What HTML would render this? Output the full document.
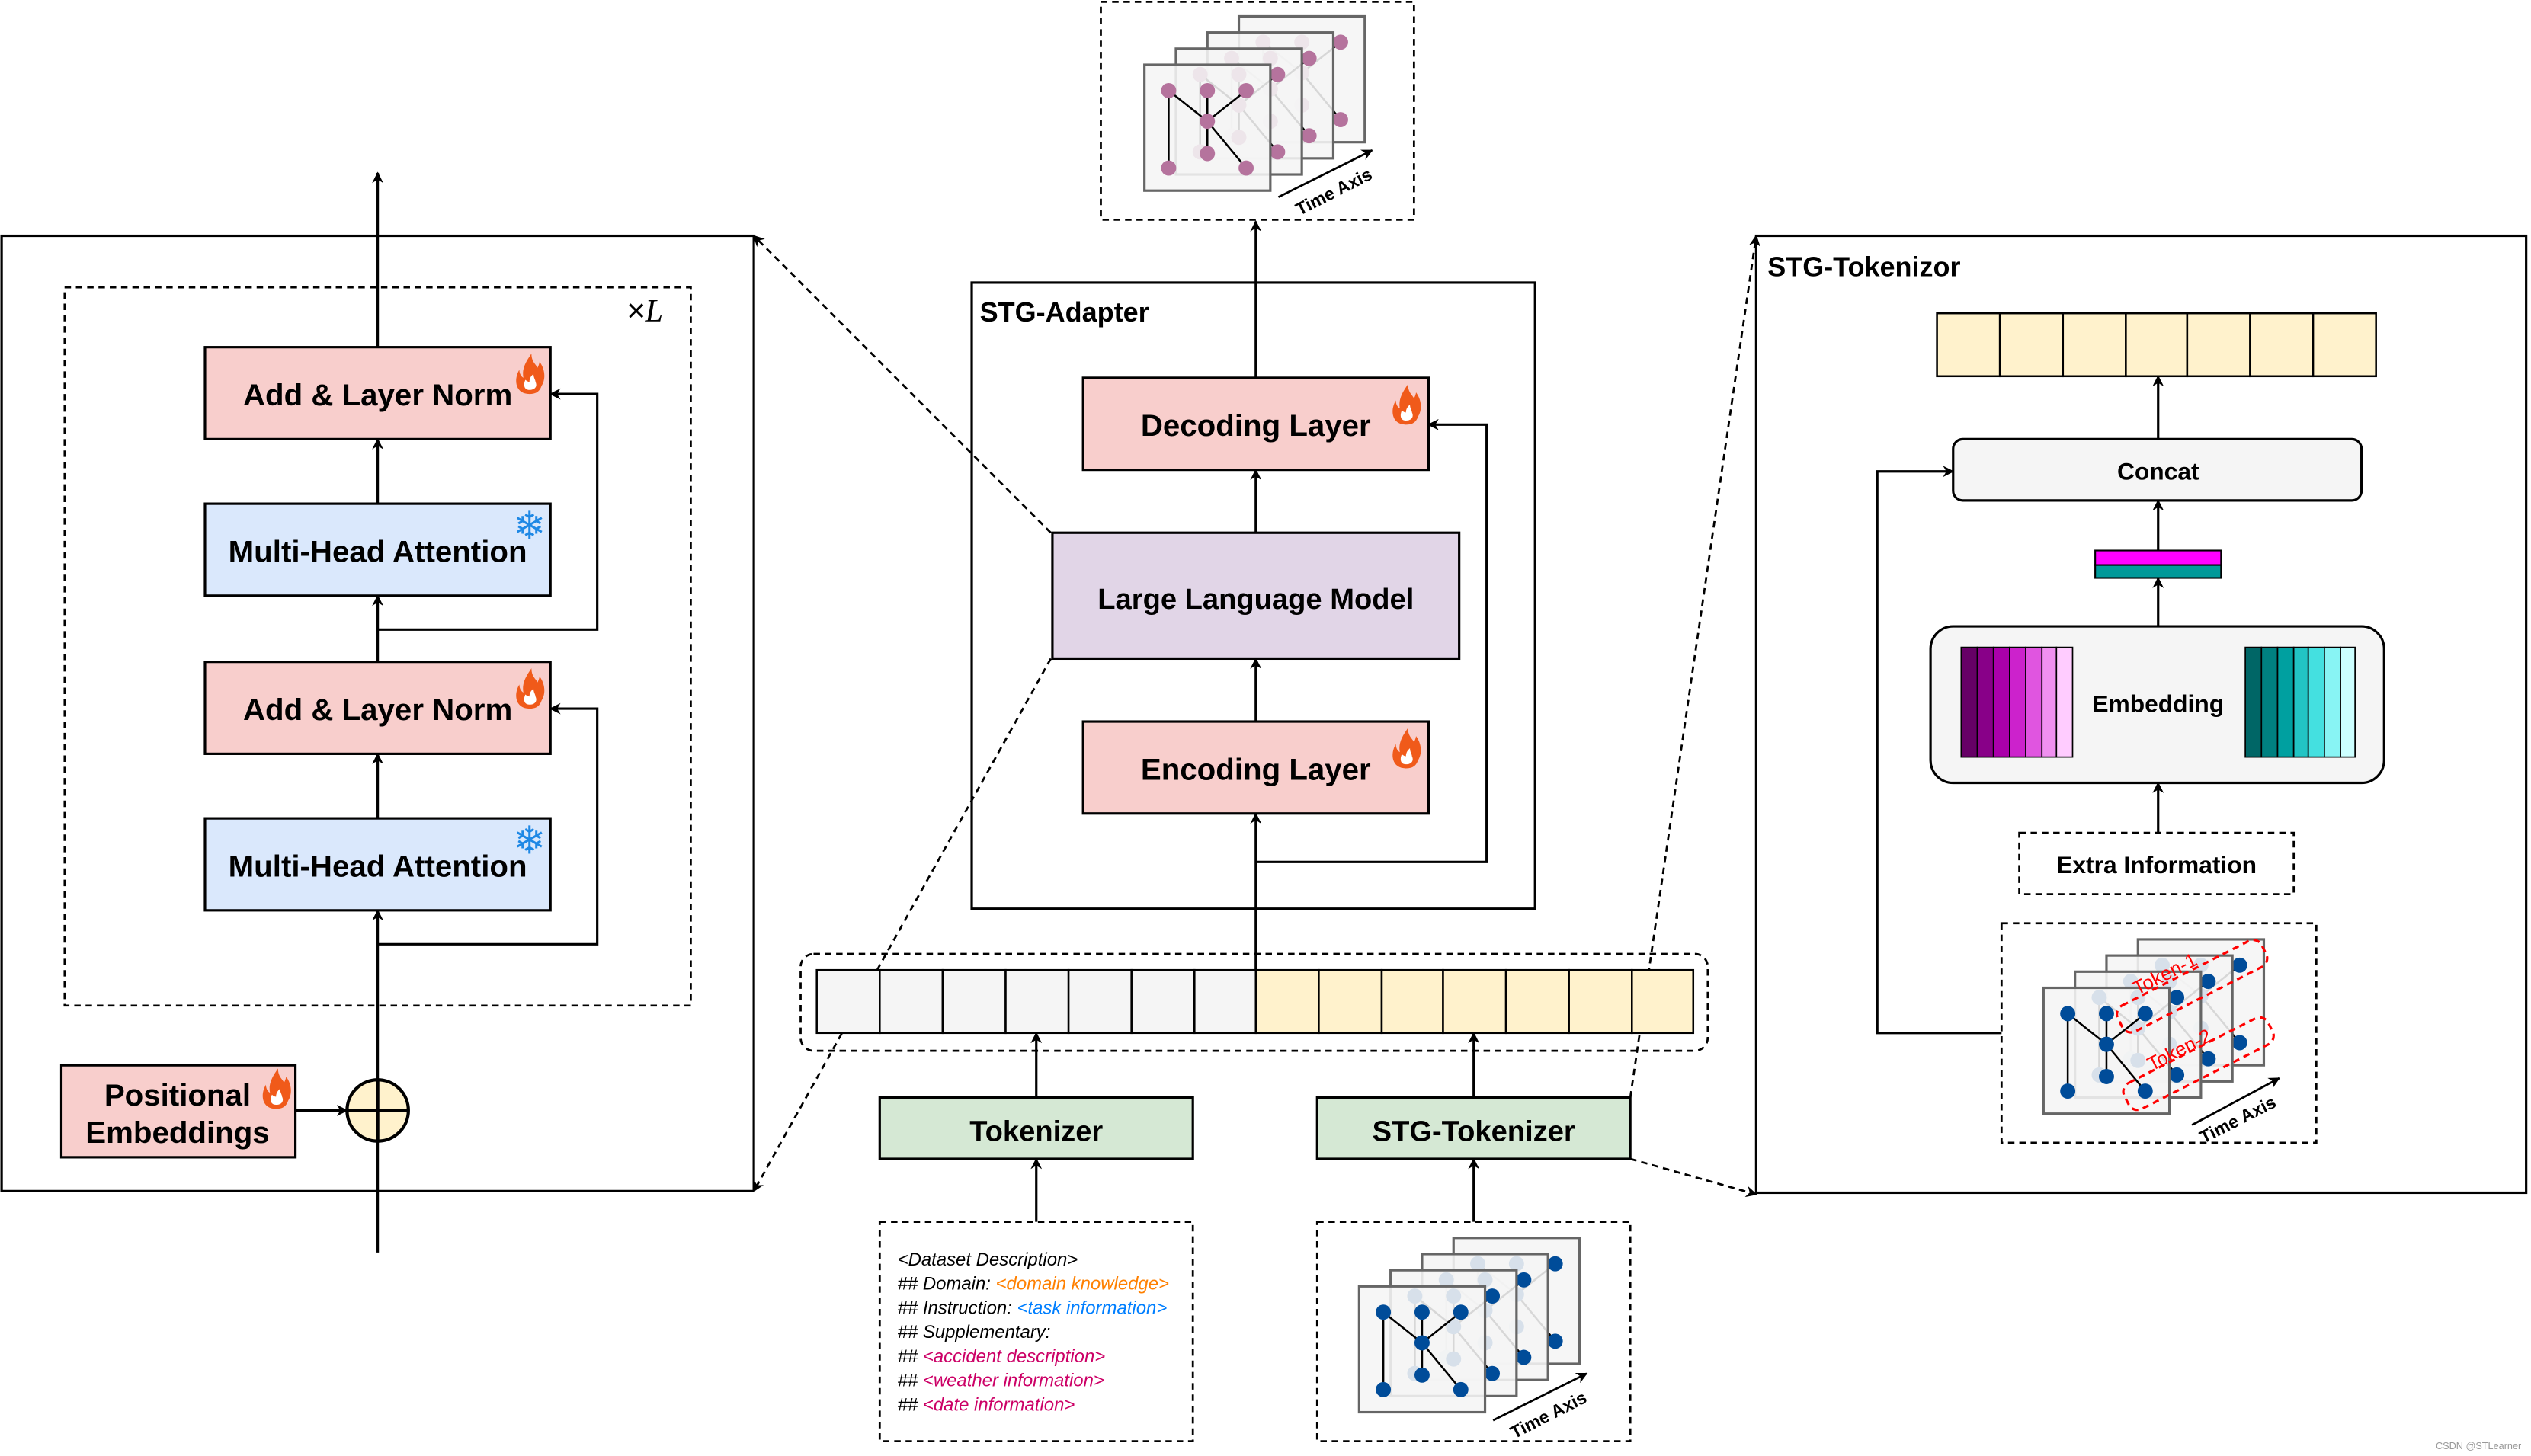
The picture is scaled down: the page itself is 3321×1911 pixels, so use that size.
<!DOCTYPE html>
<html><head><meta charset="utf-8"><style>
html,body{margin:0;padding:0;background:#fff}
svg{display:block}
text{font-family:"Liberation Sans",sans-serif}
.b{font-weight:bold}
</style></head><body>
<svg width="3321" height="1911" viewBox="0 0 1568 902" xmlns="http://www.w3.org/2000/svg">
<defs>
<marker id="ar" viewBox="0 0 10 10" refX="9" refY="5" markerWidth="7" markerHeight="7" orient="auto-start-reverse" markerUnits="userSpaceOnUse"><path d="M0,0 L10,5 L0,10 L3,5 z" fill="#000"/></marker>
<g id="edges">
<line x1="15" y1="16" x2="39" y2="35"/><line x1="63" y1="16" x2="39" y2="35"/><line x1="39" y1="16" x2="39" y2="55"/><line x1="39" y1="35" x2="63" y2="64"/><line x1="15" y1="16" x2="15" y2="64"/>
</g>
<g id="fp">
<rect x="0" y="0" width="78" height="78" fill="#f5f5f5" fill-opacity="0.88" stroke="#666" stroke-width="1.5"/>
<use href="#edges" stroke="#000" stroke-width="1.2"/>
<g fill="#b5739d"><circle cx="15" cy="16" r="4.7"/><circle cx="39" cy="16" r="4.7"/><circle cx="63" cy="16" r="4.7"/><circle cx="39" cy="35" r="4.7"/><circle cx="39" cy="55" r="4.7"/><circle cx="15" cy="64" r="4.7"/><circle cx="63" cy="64" r="4.7"/></g>
</g>
<g id="fb">
<rect x="0" y="0" width="78" height="78" fill="#f5f5f5" fill-opacity="0.88" stroke="#666" stroke-width="1.5"/>
<use href="#edges" stroke="#000" stroke-width="1.2"/>
<g fill="#004c99"><circle cx="15" cy="16" r="4.7"/><circle cx="39" cy="16" r="4.7"/><circle cx="63" cy="16" r="4.7"/><circle cx="39" cy="35" r="4.7"/><circle cx="39" cy="55" r="4.7"/><circle cx="15" cy="64" r="4.7"/><circle cx="63" cy="64" r="4.7"/></g>
</g>
<g id="fire" transform="scale(1.25)">
<path d="M0,12 C-7,12 -8,5 -5,0 C-5,3 -3,4 -3,4 C-4,-1 -1,-5 1,-8 C1,-4 3,-3 4,-1 C5,-3 5,-4 5,-4 C8,0 8,5 6,8 C5,11 3,12 0,12 z" fill="#f05a1a"/>
<path d="M0,10 C-3,10 -3,7 -2,5 C-1,6 0,6 0,6 C0,4 1,3 2,2 C2,4 3,5 3,6 C4,8 3,10 0,10 z" fill="#fff"/>
</g>
</defs>

<!-- LEFT TRANSFORMER -->
<rect x="1" y="146" width="466" height="592" fill="none" stroke="#000" stroke-width="1.5"/>
<rect x="40" y="178" width="388" height="445" fill="none" stroke="#000" stroke-width="1.2" stroke-dasharray="4,3"/>
<text x="388" y="199" font-size="20" font-style="italic" font-family="Liberation Serif">×<tspan font-family="Liberation Serif">L</tspan></text>
<line x1="234" y1="215" x2="234" y2="107" stroke="#000" stroke-width="1.5" marker-end="url(#ar)"/>

<rect x="127" y="215" width="214" height="57" fill="#f8cecc" stroke="#000" stroke-width="1.5"/>
<text x="234" y="251" font-size="19" class="b" text-anchor="middle">Add &amp; Layer Norm</text>
<use href="#fire" x="328" y="229"/>
<rect x="127" y="312" width="214" height="57" fill="#dae8fc" stroke="#000" stroke-width="1.5"/>
<text x="234" y="348" font-size="19" class="b" text-anchor="middle">Multi-Head Attention</text>
<text x="328" y="334" font-size="24" fill="#1e88e5" text-anchor="middle" font-family="DejaVu Sans">❄</text>
<rect x="127" y="410" width="214" height="57" fill="#f8cecc" stroke="#000" stroke-width="1.5"/>
<text x="234" y="446" font-size="19" class="b" text-anchor="middle">Add &amp; Layer Norm</text>
<use href="#fire" x="328" y="424"/>
<rect x="127" y="507" width="214" height="57" fill="#dae8fc" stroke="#000" stroke-width="1.5"/>
<text x="234" y="543" font-size="19" class="b" text-anchor="middle">Multi-Head Attention</text>
<text x="328" y="529" font-size="24" fill="#1e88e5" text-anchor="middle" font-family="DejaVu Sans">❄</text>

<g stroke="#000" stroke-width="1.5" fill="none">
<line x1="234" y1="312" x2="234" y2="272" marker-end="url(#ar)"/>
<line x1="234" y1="410" x2="234" y2="369" marker-end="url(#ar)"/>
<line x1="234" y1="507" x2="234" y2="467" marker-end="url(#ar)"/>
<line x1="234" y1="669" x2="234" y2="564" marker-end="url(#ar)"/>
<line x1="234" y1="776" x2="234" y2="707"/>
<polyline points="234,390 370,390 370,244 341,244" marker-end="url(#ar)"/>
<polyline points="234,585 370,585 370,439 341,439" marker-end="url(#ar)"/>
<line x1="183" y1="688" x2="215" y2="688" marker-end="url(#ar)"/>
</g>
<rect x="38" y="660" width="145" height="57" fill="#f8cecc" stroke="#000" stroke-width="1.5"/>
<text x="110" y="685" font-size="19" class="b" text-anchor="middle">Positional</text>
<text x="110" y="708" font-size="19" class="b" text-anchor="middle">Embeddings</text>
<use href="#fire" x="171" y="672"/>
<circle cx="234" cy="688" r="19" fill="#fff2cc" stroke="#000" stroke-width="2"/>
<line x1="215" y1="688" x2="253" y2="688" stroke="#000" stroke-width="2"/>
<line x1="234" y1="669" x2="234" y2="707" stroke="#000" stroke-width="2"/>

<!-- dashed zoom lines -->
<g stroke="#000" stroke-width="1.3" stroke-dasharray="4,3" fill="none">
<line x1="651" y1="330" x2="467" y2="146" marker-end="url(#ar)"/>
<line x1="651" y1="408" x2="467" y2="738" marker-end="url(#ar)"/>
<line x1="1010" y1="680" x2="1088" y2="146" marker-end="url(#ar)"/>
<line x1="1010" y1="718" x2="1088" y2="740" marker-end="url(#ar)"/>
</g>

<!-- TOP GRAPH -->
<rect x="682" y="1" width="194" height="135" fill="none" stroke="#000" stroke-width="1.3" stroke-dasharray="4,3"/>
<use href="#fp" x="767.5" y="10"/>
<use href="#fp" x="748" y="20"/>
<use href="#fp" x="728.5" y="30"/>
<use href="#fp" x="709" y="40"/>
<line x1="792" y1="122" x2="850" y2="93" stroke="#000" stroke-width="1.3" marker-end="url(#ar)"/>
<text x="828" y="122" font-size="11" class="b" text-anchor="middle" transform="rotate(-27 828 122)">Time Axis</text>

<!-- STG ADAPTER -->
<rect x="602" y="175" width="349" height="388" fill="none" stroke="#000" stroke-width="1.5"/>
<text x="607" y="199" font-size="17" class="b">STG-Adapter</text>
<rect x="671" y="234" width="214" height="57" fill="#f8cecc" stroke="#000" stroke-width="1.5"/>
<text x="778" y="270" font-size="19" class="b" text-anchor="middle">Decoding Layer</text>
<use href="#fire" x="871" y="248"/>
<rect x="652" y="330" width="252" height="78" fill="#e1d5e7" stroke="#000" stroke-width="1.5"/>
<text x="778" y="377" font-size="18" class="b" text-anchor="middle">Large Language Model</text>
<rect x="671" y="447" width="214" height="57" fill="#f8cecc" stroke="#000" stroke-width="1.5"/>
<text x="778" y="483" font-size="19" class="b" text-anchor="middle">Encoding Layer</text>
<use href="#fire" x="871" y="461"/>
<g stroke="#000" stroke-width="1.5" fill="none">
<line x1="778" y1="234" x2="778" y2="137" marker-end="url(#ar)"/>
<line x1="778" y1="330" x2="778" y2="291" marker-end="url(#ar)"/>
<line x1="778" y1="447" x2="778" y2="408" marker-end="url(#ar)"/>
<line x1="778" y1="601" x2="778" y2="504" marker-end="url(#ar)"/>
<polyline points="778,534 921,534 921,263 885,263" marker-end="url(#ar)"/>
</g>

<!-- TOKEN BAR -->
<rect x="496" y="591" width="562" height="60" rx="8" fill="none" stroke="#000" stroke-width="1.3" stroke-dasharray="4,3"/>
<g stroke="#000" stroke-width="1.2">
<rect x="506" y="601" width="39" height="39" fill="#f5f5f5"/><rect x="545" y="601" width="39" height="39" fill="#f5f5f5"/><rect x="584" y="601" width="39" height="39" fill="#f5f5f5"/><rect x="623" y="601" width="39" height="39" fill="#f5f5f5"/><rect x="662" y="601" width="39" height="39" fill="#f5f5f5"/><rect x="701" y="601" width="39" height="39" fill="#f5f5f5"/><rect x="740" y="601" width="38" height="39" fill="#f5f5f5"/>
<rect x="778" y="601" width="39" height="39" fill="#fff2cc"/><rect x="817" y="601" width="39" height="39" fill="#fff2cc"/><rect x="856" y="601" width="38" height="39" fill="#fff2cc"/><rect x="894" y="601" width="39" height="39" fill="#fff2cc"/><rect x="933" y="601" width="39" height="39" fill="#fff2cc"/><rect x="972" y="601" width="39" height="39" fill="#fff2cc"/><rect x="1011" y="601" width="38" height="39" fill="#fff2cc"/>
</g>

<rect x="545" y="680" width="194" height="38" fill="#d5e8d4" stroke="#000" stroke-width="1.5"/>
<text x="642" y="707" font-size="18" class="b" text-anchor="middle">Tokenizer</text>
<rect x="816" y="680" width="194" height="38" fill="#d5e8d4" stroke="#000" stroke-width="1.5"/>
<text x="913" y="707" font-size="18" class="b" text-anchor="middle">STG-Tokenizer</text>
<g stroke="#000" stroke-width="1.5">
<line x1="642" y1="680" x2="642" y2="640" marker-end="url(#ar)"/>
<line x1="913" y1="680" x2="913" y2="640" marker-end="url(#ar)"/>
<line x1="642" y1="757" x2="642" y2="718" marker-end="url(#ar)"/>
<line x1="913" y1="757" x2="913" y2="718" marker-end="url(#ar)"/>
</g>

<rect x="545" y="757" width="194" height="136" fill="none" stroke="#000" stroke-width="1.3" stroke-dasharray="4,3"/>
<g font-size="11.3" font-style="italic">
<text x="556" y="784">&lt;Dataset Description&gt;</text>
<text x="556" y="799">## Domain: <tspan fill="#ff8000">&lt;domain knowledge&gt;</tspan></text>
<text x="556" y="814">## Instruction: <tspan fill="#007fff">&lt;task information&gt;</tspan></text>
<text x="556" y="829">## Supplementary:</text>
<text x="556" y="844">## <tspan fill="#cc0066">&lt;accident description&gt;</tspan></text>
<text x="556" y="859">## <tspan fill="#cc0066">&lt;weather information&gt;</tspan></text>
<text x="556" y="874">## <tspan fill="#cc0066">&lt;date information&gt;</tspan></text>
</g>

<rect x="816" y="757" width="194" height="136" fill="none" stroke="#000" stroke-width="1.3" stroke-dasharray="4,3"/>
<use href="#fb" x="900.5" y="767"/>
<use href="#fb" x="881" y="777"/>
<use href="#fb" x="861.5" y="787"/>
<use href="#fb" x="842" y="797"/>
<line x1="925" y1="880" x2="983" y2="851" stroke="#000" stroke-width="1.3" marker-end="url(#ar)"/>
<text x="961" y="880" font-size="11" class="b" text-anchor="middle" transform="rotate(-27 961 880)">Time Axis</text>

<!-- RIGHT STG-TOKENIZOR -->
<rect x="1088" y="146" width="477" height="593" fill="none" stroke="#000" stroke-width="1.5"/>
<text x="1095" y="171" font-size="17" class="b">STG-Tokenizor</text>
<g stroke="#000" stroke-width="1.2" fill="#fff2cc">
<rect x="1200" y="194" width="39" height="39"/><rect x="1239" y="194" width="39" height="39"/><rect x="1278" y="194" width="39" height="39"/><rect x="1317" y="194" width="38" height="39"/><rect x="1355" y="194" width="39" height="39"/><rect x="1394" y="194" width="39" height="39"/><rect x="1433" y="194" width="39" height="39"/>
</g>
<rect x="1210" y="272" width="253" height="38" rx="6" fill="#f5f5f5" stroke="#000" stroke-width="1.5"/>
<text x="1337" y="297" font-size="15" class="b" text-anchor="middle">Concat</text>
<rect x="1298" y="341" width="78" height="9" fill="#ff00ff" stroke="#000" stroke-width="1"/>
<rect x="1298" y="350" width="78" height="8" fill="#009999" stroke="#000" stroke-width="1"/>
<rect x="1196" y="388" width="281" height="97" rx="14" fill="#f5f5f5" stroke="#000" stroke-width="1.5"/>
<text x="1337" y="441" font-size="15" class="b" text-anchor="middle">Embedding</text>
<g stroke="#000" stroke-width="0.8">
<rect x="1215" y="401" width="10" height="68" fill="#660066"/><rect x="1225" y="401" width="10" height="68" fill="#880088"/><rect x="1235" y="401" width="10" height="68" fill="#aa00aa"/><rect x="1245" y="401" width="10" height="68" fill="#cc22cc"/><rect x="1255" y="401" width="10" height="68" fill="#e055e0"/><rect x="1265" y="401" width="9" height="68" fill="#f090f0"/><rect x="1274" y="401" width="10" height="68" fill="#ffccff"/>
<rect x="1391" y="401" width="10" height="68" fill="#006666"/><rect x="1401" y="401" width="10" height="68" fill="#008080"/><rect x="1411" y="401" width="10" height="68" fill="#00a0a0"/><rect x="1421" y="401" width="9" height="68" fill="#22c4c4"/><rect x="1430" y="401" width="10" height="68" fill="#44e0e0"/><rect x="1440" y="401" width="10" height="68" fill="#88f4f4"/><rect x="1450" y="401" width="9" height="68" fill="#ccffff"/>
</g>
<rect x="1251" y="516" width="170" height="38" fill="none" stroke="#000" stroke-width="1.3" stroke-dasharray="4,3"/>
<text x="1336" y="541" font-size="15" class="b" text-anchor="middle">Extra Information</text>
<g stroke="#000" stroke-width="1.5" fill="none">
<line x1="1337" y1="516" x2="1337" y2="485" marker-end="url(#ar)"/>
<line x1="1337" y1="388" x2="1337" y2="358" marker-end="url(#ar)"/>
<line x1="1337" y1="341" x2="1337" y2="310" marker-end="url(#ar)"/>
<line x1="1337" y1="272" x2="1337" y2="233" marker-end="url(#ar)"/>
<polyline points="1240,640 1163,640 1163,292 1210,292" marker-end="url(#ar)"/>
</g>
<rect x="1240" y="572" width="195" height="136" fill="none" stroke="#000" stroke-width="1.3" stroke-dasharray="4,3"/>
<use href="#fb" x="1324.5" y="582"/>
<use href="#fb" x="1305" y="592"/>
<use href="#fb" x="1285.5" y="602"/>
<use href="#fb" x="1266" y="612"/>
<g fill="none" stroke="#ff0000" stroke-width="1.5" stroke-dasharray="4,3">
<rect x="-50" y="-9" width="100" height="18" rx="6" transform="translate(1358 611) rotate(-27)"/>
<rect x="-50" y="-9" width="100" height="18" rx="6" transform="translate(1362 659) rotate(-27)"/>
</g>
<text x="1343" y="607" font-size="12" fill="#ff0000" text-anchor="middle" transform="rotate(-27 1343 607)">Token-1</text>
<text x="1352" y="654" font-size="12" fill="#ff0000" text-anchor="middle" transform="rotate(-27 1352 654)">Token-2</text>
<line x1="1358" y1="697" x2="1412" y2="668" stroke="#000" stroke-width="1.3" marker-end="url(#ar)"/>
<text x="1388" y="697" font-size="11" class="b" text-anchor="middle" transform="rotate(-27 1388 697)">Time Axis</text>

<text x="1562" y="898" font-size="6" fill="#999" text-anchor="end">CSDN @STLearner</text>
</svg>
</body></html>
